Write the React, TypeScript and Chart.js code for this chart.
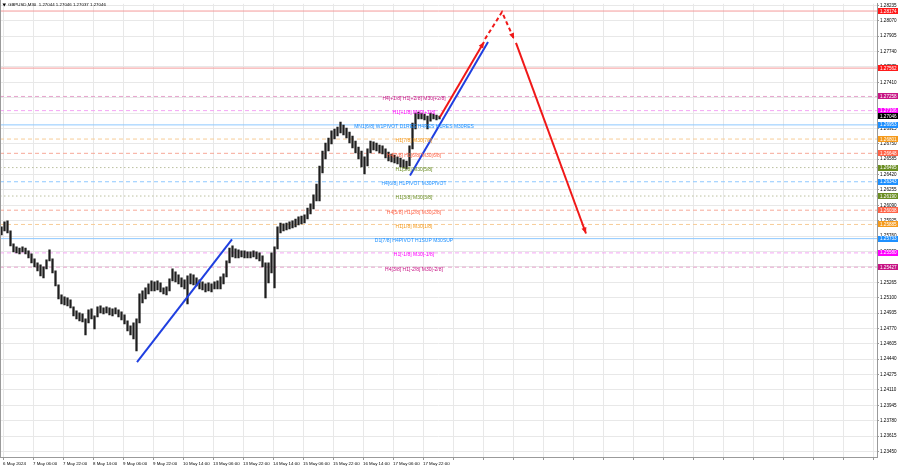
import { useEffect, useRef } from 'react';
import { Chart, registerables } from 'chart.js';
Chart.register(...registerables);

const titleText = 'GBPUSD,M30  1.27044 1.27046 1.27037 1.27046';

const timeLabels = [
  '6 May 2024', '7 May 06:00', '7 May 22:00', '8 May 14:00', '9 May 06:00', '9 May 22:00',
  '10 May 14:00', '13 May 06:00', '13 May 22:00', '14 May 14:00', '15 May 06:00', '15 May 22:00',
  '16 May 14:00', '17 May 06:00', '17 May 22:00',
];

const priceTicks = [
  1.2345, 1.23615, 1.2378, 1.23945, 1.2411, 1.24275, 1.2444, 1.24605, 1.2477, 1.24935,
  1.251, 1.25265, 1.2543, 1.25595, 1.2576, 1.25925, 1.2609, 1.26255, 1.2642, 1.26585,
  1.2675, 1.26915, 1.2708, 1.27245, 1.2741, 1.27575, 1.2774, 1.27905, 1.2807, 1.28235,
];

const candleHigh = [
  1.25859, 1.25912, 1.25923, 1.25816, 1.25676, 1.25644, 1.25633, 1.25644, 1.25633, 1.25601,
  1.25569, 1.25516, 1.25473, 1.25451, 1.2543, 1.25505, 1.25612, 1.25516, 1.25387, 1.25237,
  1.2513, 1.25108, 1.25097, 1.25076, 1.25001, 1.24958, 1.24937, 1.24926, 1.24872, 1.24969,
  1.2498, 1.24904, 1.25001, 1.25012, 1.2499, 1.25001, 1.2499, 1.2498, 1.2499, 1.24969,
  1.24947, 1.24915, 1.24851, 1.24797, 1.2483, 1.24872, 1.2514, 1.25173, 1.25205, 1.25248,
  1.2528, 1.25269, 1.2528, 1.25258, 1.25205, 1.25215, 1.25301, 1.25408, 1.25376, 1.25344,
  1.25312, 1.2529, 1.25333, 1.25355, 1.25344, 1.25312, 1.2529, 1.25269, 1.25248, 1.25258,
  1.25248, 1.25269, 1.2528, 1.25323, 1.25355, 1.25494, 1.25633, 1.25655, 1.25623, 1.25612,
  1.25601, 1.25601, 1.25591, 1.25591, 1.25601, 1.25591, 1.2558, 1.25548, 1.25473, 1.25473,
  1.2558, 1.25644, 1.25859, 1.25901, 1.25891, 1.25901, 1.25912, 1.25923, 1.25944, 1.25966,
  1.25976, 1.25987, 1.26062, 1.26105, 1.26202, 1.26319, 1.26512, 1.26673, 1.26759, 1.26812,
  1.26888, 1.26909, 1.2693, 1.26984, 1.26952, 1.2692, 1.26877, 1.26834, 1.2678, 1.26716,
  1.26673, 1.26609, 1.26695, 1.2678, 1.2677, 1.26759, 1.26737, 1.26727, 1.26695, 1.26662,
  1.26641, 1.2663, 1.26609, 1.26598, 1.26577, 1.26566, 1.26727, 1.26973, 1.2708, 1.27091,
  1.2708, 1.2707, 1.27048, 1.2708, 1.2707, 1.27059, 1.27048,
];

const candleLow = [
  1.25773, 1.25816, 1.25794, 1.25655, 1.25591, 1.2558, 1.25569, 1.25591, 1.25569, 1.25526,
  1.25473, 1.2543, 1.25387, 1.25333, 1.25312, 1.25408, 1.25494, 1.25365, 1.25226, 1.25087,
  1.25033, 1.25022, 1.25012, 1.2499, 1.24904, 1.24872, 1.24851, 1.2484, 1.24701, 1.2483,
  1.24872, 1.24765, 1.24894, 1.24937, 1.24926, 1.24937, 1.24915, 1.24904, 1.24926, 1.24894,
  1.24862, 1.24819, 1.24744, 1.24701, 1.24658, 1.24529, 1.2483, 1.25044, 1.25087, 1.2514,
  1.25173, 1.25173, 1.25183, 1.25162, 1.2514, 1.2513, 1.25173, 1.2528, 1.25269, 1.25248,
  1.25215, 1.25194, 1.25033, 1.25248, 1.25237, 1.25226, 1.25194, 1.25183, 1.25162, 1.25173,
  1.25162, 1.25194, 1.25194, 1.25194, 1.25248, 1.25323, 1.25473, 1.25537, 1.25526, 1.25526,
  1.25537, 1.25526, 1.25526, 1.25526, 1.25537, 1.25516, 1.25494, 1.2543, 1.25097, 1.25258,
  1.25365, 1.25205, 1.25623, 1.25794, 1.25816, 1.25826, 1.25837, 1.25848, 1.25859, 1.2588,
  1.25891, 1.25901, 1.25944, 1.25998, 1.26051, 1.26137, 1.26137, 1.26437, 1.26587, 1.26673,
  1.26748, 1.26802, 1.26834, 1.26866, 1.26845, 1.26812, 1.26759, 1.26705, 1.26652, 1.26587,
  1.26502, 1.26427, 1.26512, 1.26652, 1.26684, 1.26673, 1.26652, 1.26641, 1.26598, 1.26566,
  1.26555, 1.26544, 1.26534, 1.26502, 1.26491, 1.2648, 1.26512, 1.26695, 1.26909, 1.27016,
  1.27016, 1.27005, 1.26909, 1.26994, 1.27016, 1.27005, 1.27016,
];

const currentPrice = 1.27046;

const levelPrices = [
  1.28174, 1.27562, 1.27258, 1.27106, 1.26953, 1.26801, 1.26648, 1.26495,
  1.26343, 1.2619, 1.26038, 1.25885, 1.25733, 1.2558, 1.25427,
];
const levelTexts = [
  '', '', 'H4[+1/8] H1[+2/8] M30[+2/8]', 'H1[+1/8] M30[+1/8]',
  'MN1[6/8] W1PIVOT D1RES H4RES H1RES M30RES', 'H1[7/8] M30[7/8]', 'H4[7/8] H1[6/8] M30[6/8]',
  'H1[5/8] M30[5/8]', 'H4[6/8] H1PIVOT M30PIVOT', 'H1[3/8] M30[3/8]', 'H4[5/8] H1[2/8] M30[2/8]',
  'H1[1/8] M30[1/8]', 'D1[7/8] H4PIVOT H1SUP M30SUP', 'H1[-1/8] M30[-1/8]', 'H4[3/8] H1[-2/8] M30[-2/8]',
];
const levelKinds = ['red', 'red', 'violet', 'magenta', 'blue', 'orange', 'tomato', 'olive', 'blue', 'olive', 'tomato', 'orange', 'blue', 'magenta', 'violet'];
const levelDashKinds = ['solid', 'solid', 'dash', 'dash', 'solid', 'dash', 'dash', 'dot', 'dash', 'dot', 'dash', 'dash', 'solid', 'dash', 'dash'];

const palette: Record<string, { line: string; text: string; box: string }> = {
  red: { line: '#f49a9a', text: '#ff0000', box: '#ff1a1a' },
  violet: { line: '#e6a3cc', text: '#c71585', box: '#c71585' },
  magenta: { line: '#f4a6f4', text: '#ff00ff', box: '#ff00ff' },
  blue: { line: '#8ec8ff', text: '#1e90ff', box: '#1e90ff' },
  orange: { line: '#f7cc98', text: '#f59a1b', box: '#f59a1b' },
  tomato: { line: '#f7a898', text: '#ff6347', box: '#ff6347' },
  olive: { line: '#bcc0a0', text: '#6b8e23', box: '#6b8e23' },
};
const dashes: Record<string, number[]> = { solid: [], dash: [4, 3], dot: [1.5, 2.5] };

const blueTrend1 = [{ x: 45.17, y: 1.24408 }, { x: 76.83, y: 1.25724 }];
const blueTrend2 = [{ x: 136.17, y: 1.26409 }, { x: 162.17, y: 1.27842 }];
const redUp = [{ x: 146.17, y: 1.27037 }, { x: 160.83, y: 1.27842 }];
const redDashed = [{ x: 161.17, y: 1.27874 }, { x: 166.83, y: 1.28163 }, { x: 170.83, y: 1.27874 }];
const redDown = [{ x: 171.5, y: 1.27832 }, { x: 194.83, y: 1.25788 }];

const X_MIN = -0.5;
const X_MAX = 291.83;
const Y_MIN = 1.23391;
const Y_MAX = 1.28252;
const LABEL_X = 137.5;
const FONT = '"Liberation Sans", Arial, sans-serif';

const overlayPlugin = {
  id: 'mtOverlay',
  afterDatasetsDraw(chart: any) {
    const { ctx, scales } = chart;
    const x = scales.x;
    const y = scales.y;
    ctx.save();
    chart.data.datasets.forEach((ds: any, di: number) => {
      if (!ds.arrow) return;
      const meta = chart.getDatasetMeta(di);
      const n = meta.data.length;
      if (n < 2) return;
      const p0 = meta.data[n - 2];
      const p1 = meta.data[n - 1];
      const a = Math.atan2(p1.y - p0.y, p1.x - p0.x);
      const L = 6;
      const W = 2.6;
      const bx = p1.x - L * Math.cos(a);
      const by = p1.y - L * Math.sin(a);
      ctx.fillStyle = ds.borderColor;
      ctx.beginPath();
      ctx.moveTo(p1.x, p1.y);
      ctx.lineTo(bx - W * Math.sin(a), by + W * Math.cos(a));
      ctx.lineTo(bx + W * Math.sin(a), by - W * Math.cos(a));
      ctx.closePath();
      ctx.fill();
    });
    ctx.font = `5px ${FONT}`;
    ctx.textAlign = 'center';
    ctx.textBaseline = 'middle';
    const cx = x.getPixelForValue(LABEL_X);
    levelPrices.forEach((p, i) => {
      if (!levelTexts[i]) return;
      ctx.fillStyle = palette[levelKinds[i]].text;
      ctx.fillText(levelTexts[i], cx, y.getPixelForValue(p) + 2);
    });
    ctx.restore();
  },
  afterDraw(chart: any) {
    const { ctx, scales, chartArea } = chart;
    const y = scales.y;
    ctx.save();
    ctx.font = `4.6px ${FONT}`;
    ctx.textAlign = 'left';
    ctx.textBaseline = 'middle';
    const boxes = levelPrices.map((p, i) => ({ p, c: palette[levelKinds[i]].box }));
    boxes.push({ p: currentPrice, c: '#000000' });
    boxes.forEach(({ p, c }) => {
      const py = y.getPixelForValue(p);
      ctx.fillStyle = c;
      ctx.fillRect(chartArea.right + 1, Math.round(py) - 3, 20, 6);
      ctx.fillStyle = '#ffffff';
      ctx.fillText(p.toFixed(5), chartArea.right + 3, py + 0.3);
    });
    ctx.strokeStyle = '#9a9a9a';
    ctx.lineWidth = 1;
    ctx.beginPath();
    ctx.moveTo(chartArea.left + 0.5, 0);
    ctx.lineTo(chartArea.left + 0.5, chartArea.bottom);
    ctx.stroke();
    ctx.fillStyle = '#000';
    ctx.beginPath();
    ctx.moveTo(2.5, 3.5);
    ctx.lineTo(6, 3.5);
    ctx.lineTo(4.25, 6.5);
    ctx.closePath();
    ctx.fill();
    ctx.font = `4.4px ${FONT}`;
    ctx.fillText(titleText, 8, 5);
    ctx.restore();
  },
};

export default function App() {
  const ref = useRef<HTMLCanvasElement | null>(null);

  useEffect(() => {
    if (!ref.current) return;
    const gridVals = Array.from({ length: 30 }, (_, k) => 0.5 + 10 * k);

    const levelDatasets = levelPrices.map((p, i) => ({
      type: 'line' as const,
      data: [{ x: X_MIN, y: p }, { x: X_MAX, y: p }],
      borderColor: palette[levelKinds[i]].line,
      borderWidth: 1,
      borderDash: dashes[levelDashKinds[i]],
      pointRadius: 0,
      order: 5,
    }));

    const candles = {
      type: 'bar' as const,
      data: candleHigh.map((h, i) => ({ x: i, y: [candleLow[i], h] })),
      backgroundColor: '#1e1e1e',
      borderWidth: 0,
      barThickness: 1.6,
      order: 3,
    };

    const mkLine = (pts: any[], color: string, dash: number[], arrow: boolean) => ({
      type: 'line' as const,
      data: pts,
      borderColor: color,
      borderWidth: 2,
      borderDash: dash,
      pointRadius: 0,
      arrow,
      order: 1,
    });

    const chart = new Chart(ref.current, {
      type: 'line',
      data: {
        datasets: [
          ...levelDatasets,
          candles,
          mkLine(blueTrend1, '#1f3fe0', [], false),
          mkLine(blueTrend2, '#1f3fe0', [], false),
          mkLine(redUp, '#f01818', [], true),
          mkLine(redDashed, '#f01818', [4, 3], true),
          mkLine(redDown, '#f01818', [], true),
        ] as any,
      },
      options: {
        animation: false,
        responsive: false,
        devicePixelRatio: 1,
        layout: { padding: 0 },
        plugins: { legend: { display: false }, tooltip: { enabled: false } },
        scales: {
          x: {
            type: 'linear',
            min: X_MIN,
            max: X_MAX,
            offset: false,
            afterBuildTicks: (s: any) => {
              s.ticks = gridVals.map((v) => ({ value: v }));
            },
            afterFit: (s: any) => {
              s.height = 11;
            },
            grid: { color: '#e8e8e8', tickLength: 3, tickColor: '#999', offset: false },
            border: { color: '#9a9a9a' },
            ticks: {
              autoSkip: false,
              maxRotation: 0,
              align: 'start',
              padding: 1,
              color: '#000',
              font: { family: FONT, size: 4.4 },
              callback: (_v: any, idx: number) => timeLabels[idx] ?? '',
            },
          },
          y: {
            type: 'linear',
            position: 'right',
            min: Y_MIN,
            max: Y_MAX,
            afterBuildTicks: (s: any) => {
              s.ticks = priceTicks.map((v) => ({ value: v }));
            },
            afterFit: (s: any) => {
              s.width = 23;
            },
            grid: { color: '#e8e8e8', tickLength: 2, tickColor: '#999' },
            border: { color: '#9a9a9a' },
            ticks: {
              autoSkip: false,
              padding: 1,
              crossAlign: 'near',
              color: '#000',
              font: { family: FONT, size: 4.6 },
              callback: (v: any) => Number(v).toFixed(5),
            },
          },
        },
      } as any,
      plugins: [overlayPlugin],
    });
    return () => chart.destroy();
  }, []);

  return (
    <div style={{ position: 'fixed', left: 0, top: 0, width: 900, height: 468, background: '#fff' }}>
      <canvas ref={ref} width={900} height={468} style={{ display: 'block', width: 900, height: 468 }} />
    </div>
  );
}
